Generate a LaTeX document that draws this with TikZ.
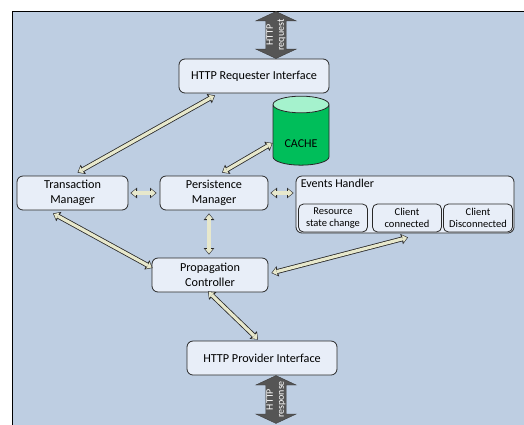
\documentclass[tikz,border=0pt]{standalone}
\usepackage{fontspec}
\setmainfont{Carlito}
\usetikzlibrary{arrows.meta,shapes.arrows,shapes.geometric}

\definecolor{panel}{RGB}{190,206,226}
\definecolor{boxfill}{RGB}{232,238,248}
\definecolor{edge}{RGB}{40,40,40}
\definecolor{flowfill}{RGB}{231,232,204}
\definecolor{cachebody}{RGB}{0,190,90}
\definecolor{cachetop}{RGB}{165,242,205}
\definecolor{wiregrey}{RGB}{85,85,85}

\tikzset{
  box/.style={draw=edge, fill=boxfill, rounded corners=6pt, line width=0.8pt,
    align=center, inner sep=2pt, minimum height=34pt,
    font=\fontsize{12.2}{15}\selectfont},
  subbox/.style={box, rounded corners=5pt, minimum height=28pt,
    font=\fontsize{10.5}{12}\selectfont},
  flow/.style={draw=flowfill, line width=3.2pt,
    {Triangle[length=4.4pt,width=7.4pt,line width=0pt]}-{Triangle[length=4.4pt,width=7.4pt,line width=0pt]},
    shorten <=1pt, shorten >=1pt,
    preaction={draw=edge, line width=4.8pt, shorten <=0pt, shorten >=0pt,
      {Triangle[length=6.6pt,width=10.6pt,line width=0pt]}-{Triangle[length=6.6pt,width=10.6pt,line width=0pt]}}},
  httpwire/.style={double arrow, rotate=90, fill=wiregrey, draw=wiregrey!70!black,
    text=white, align=center, inner sep=0.5pt, minimum height=47pt,
    double arrow head extend=10pt, double arrow tip angle=130,
    font=\fontsize{10}{11}\selectfont},
}

\begin{document}
\begin{tikzpicture}[x=1pt,y=-1pt]
\clip (0,0) rectangle (524,424);
\fill[white] (0,0) rectangle (524,424);
\draw[fill=panel, line width=0.9pt] (12,11) rectangle (540,440);

% ---- interfaces ----
\node[httpwire] (req) at (276,35) {HTTP\\request};
\node[box, minimum width=150pt] (hri) at (254,76) {HTTP Requester Interface};
\node[box, minimum width=150pt] (hpi) at (262,358) {HTTP Provider Interface};
\node[httpwire] (resp) at (276,399.5) {HTTP\\response};

% ---- managers ----
\node[cylinder, shape border rotate=90, aspect=0.42, draw=edge, line width=0.8pt,
  cylinder uses custom fill, cylinder body fill=cachebody, cylinder end fill=cachetop,
  minimum width=56pt, minimum height=69pt, text height=20pt, text depth=0pt,
  font=\fontsize{12}{14}\selectfont]
  (cache) at (301,137) {CACHE};
\node[box, minimum width=111pt] (tm) at (72.5,193) {Transaction\\Manager};
\node[box, minimum width=108pt] (pm) at (214,193) {Persistence\\Manager};
\node[box, minimum width=116pt] (pc) at (210,275) {Propagation\\Controller};

% ---- events handler ----
\node[box, minimum width=218pt, minimum height=57pt] (eh) at (405,204.5) {};
\node[anchor=north west, inner sep=0pt, font=\fontsize{12}{14}\selectfont]
  (ehlab) at ([xshift=5pt,yshift=-3pt]eh.north west) {Events Handler};
\foreach \n/\xc/\txt in {rsc/333/{Resource\\state change},
                         cc/407/{Client\\connected},
                         cd/478/{Client\\Disconnected}} {
  \node[subbox, minimum width=69pt] (\n) at (\xc,218) {\txt};
}

% ---- flows ----
\draw[flow] ([xshift=5pt,yshift=3pt]tm.north) -- ([xshift=-39pt,yshift=-2pt]hri.south);
\draw[flow] ([xshift=8pt,yshift=3pt]pm.north) -- ([yshift=-6pt]cache.west);
\draw[flow] ([xshift=2pt]tm.east) -- ([xshift=-3pt]pm.west);
\draw[flow] ([xshift=2pt]pm.east) -- ([xshift=-2pt,yshift=11.5pt]eh.west);
\draw[flow] ([xshift=-5pt,yshift=-3pt]pm.south) -- ([xshift=-1pt,yshift=3pt]pc.north);
\draw[flow] ([xshift=-19.5pt,yshift=-3pt]tm.south) -- ([xshift=1pt,yshift=7pt]pc.west);
\draw[flow] ([xshift=3pt,yshift=2pt]pc.east) -- ([xshift=1pt,yshift=-5pt]cc.south);
\draw[flow] ([xshift=-2pt,yshift=1pt]pc.south) -- ([xshift=-4pt,yshift=1pt]hpi.north);
\end{tikzpicture}
\end{document}
